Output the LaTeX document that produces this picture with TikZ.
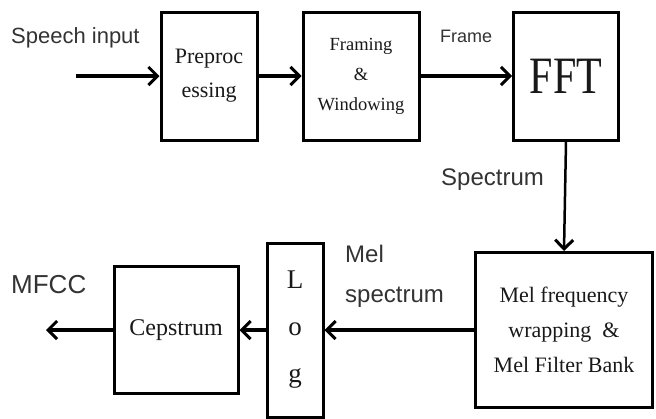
\documentclass[tikz,border=0pt]{standalone}
\usepackage{fontspec}
\setmainfont{Liberation Serif}
\newfontfamily\lblfont{Liberation Sans}
\usetikzlibrary{arrows.meta,positioning}
\tikzset{
  blk/.style={rectangle,draw=black,line width=3pt,fill=white,
              text=black!90,align=center,inner sep=0pt},
  lbl/.style={font=\lblfont\fontsize{22}{26}\selectfont,text=black!80,
              inner sep=0pt,anchor=west},
  arr/.style={-{Straight Barb[length=9pt,width=18pt,line width=3pt]},
              line width=3.5pt,color=black},
}

\begin{document}
\begin{tikzpicture}[x=1pt,y=-1pt]
  \useasboundingbox (0,0) rectangle (656,418);

  % top row
  \node[blk,minimum width=96pt,minimum height=128pt,
        font=\fontsize{22}{34}\selectfont] (prep) at (209,76) {Preproc\\essing};
  \node[blk,minimum width=116pt,minimum height=128pt,
        font=\fontsize{18.5}{30}\selectfont] (frm) at (361,76) {Framing\\\&\\Windowing};
  \node[blk,minimum width=105pt,minimum height=128pt,
        font=\fontsize{42}{42}\selectfont] (fft) at (566,76) {\scalebox{1}[1.25]{FFT}};

  % bottom row
  \node[blk,minimum width=177pt,minimum height=155pt,
        font=\fontsize{22}{35}\selectfont] (mel) at (564,330)
        {Mel frequency\\wrapping~~\&\\Mel Filter Bank};
  \node[blk,minimum width=56pt,minimum height=174pt,
        font=\fontsize{27}{47}\selectfont] (log) at (295,330) {L\\o\\g};
  \node[blk,minimum width=124pt,minimum height=127pt,
        font=\fontsize{24}{28}\selectfont] (cep) at (176,330) {Cepstrum};

  \coordinate (in) at (76,76);
  \coordinate (out) at (46,330);

  % labels
  \node[lbl] (lin) at (11,38) {Speech input};
  \node[lbl,font=\lblfont\fontsize{18}{22}\selectfont] (lfrm) at (440,36) {Frame};
  \node[lbl,font=\lblfont\fontsize{24}{28}\selectfont] (lspec) at (441,180) {Spectrum};
  \node[lbl,font=\lblfont\fontsize{24}{40}\selectfont,align=left,anchor=north west]
    (lmel) at (345,245) {Mel\\spectrum};
  \node[lbl,font=\lblfont\fontsize{26}{30}\selectfont] (lout) at (11,285) {MFCC};

  % connectors
  \draw[arr] (in) -- (prep.west);
  \draw[arr] (prep.east) -- (frm.west);
  \draw[arr] (frm.east) -- (fft.west);
  \draw[arr,line width=2.5pt] (fft.south) -- (mel.north);
  \draw[arr] (mel.west) -- (log.east);
  \draw[arr] (log.west) -- (cep.east);
  \draw[arr] (cep.west) -- (out);
\end{tikzpicture}
\end{document}
